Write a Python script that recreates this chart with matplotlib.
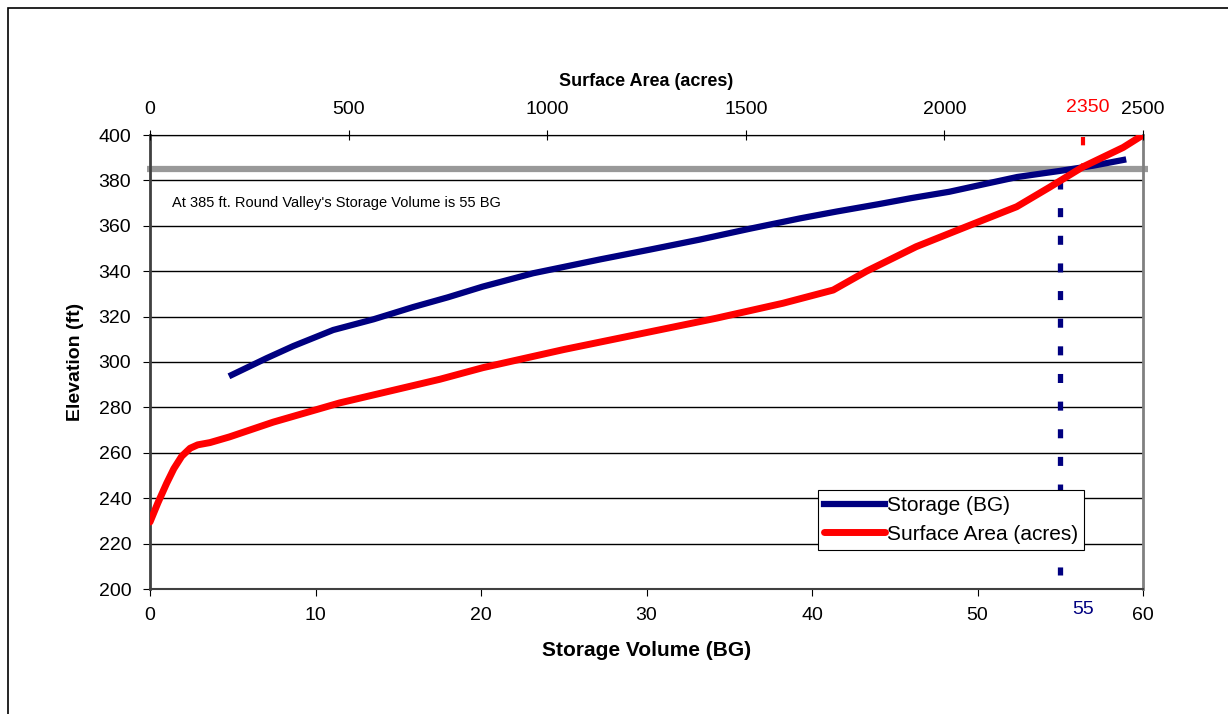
import matplotlib
matplotlib.use("Agg")
import matplotlib.pyplot as plt
from matplotlib.patches import Rectangle

plt.rcParams['font.family'] = ['Liberation Sans', 'DejaVu Sans']
plt.rcParams['lines.scale_dashes'] = False

# Storage curve (BG vs elevation ft)
storage_bg = [4.94, 7.05, 8.65, 11.07, 13.5, 15.9, 18.0, 20.1, 23.15, 27.2, 30.2,
              33.2, 36.3, 39.3, 41.5, 44.0, 46.0, 48.3, 50.5, 52.4, 55.0, 57.0, 58.8]
storage_elev = [294.3, 301.7, 307, 314.1, 318.8, 324.2, 328.5, 333.2, 339.1, 345.2,
                349.5, 353.9, 358.8, 363.3, 366.3, 369.5, 372.2, 375, 378.5, 381.5,
                384.2, 386.5, 389]

# Surface area curve (acres vs elevation ft)
area_acres = [0, 20, 42, 60, 80, 101, 120, 151, 200, 310, 478, 730, 838, 1042,
              1259, 1426, 1594, 1720, 1804, 1929, 2055, 2182, 2265, 2349, 2450, 2500]
area_elev = [229.5, 238, 246.6, 253, 258.5, 262, 263.5, 264.5, 267, 273.5, 282,
             292.4, 297.5, 305.5, 313.3, 319.3, 325.9, 331.7, 340, 350.8, 359.6,
             368.4, 377, 386, 394.5, 400]

ref_elev = 385
ref_storage = 55
ref_area = 2350

bottom_ticks = [0, 10, 20, 30, 40, 50, 60]
top_ticks = [0, 500, 1000, 1500, 2000, 2500]
y_ticks = [200, 220, 240, 260, 280, 300, 320, 340, 360, 380, 400]

fig = plt.figure(figsize=(12.28, 7.14), dpi=100)
fig.patches.append(Rectangle((8/1228, -0.1), 1.2, 1 - 8/714 + 0.1,
                             transform=fig.transFigure, fill=False,
                             edgecolor='black', linewidth=1.2))

ax = fig.add_axes([150/1228, 1 - 589/714, (1143-150)/1228, (589-135)/714])
ax.set_xlim(0, 60)
ax.set_ylim(200, 400)
ax.set_yticks(y_ticks)
ax.set_xticks(bottom_ticks)
ax.yaxis.grid(True, color='black', linewidth=1.0)
ax.set_axisbelow(True)
ax.spines['left'].set_color('#404040')
ax.spines['left'].set_linewidth(2)
ax.spines['right'].set_color('#808080')
ax.spines['right'].set_linewidth(2)
ax.spines['bottom'].set_color('#404040')
ax.spines['bottom'].set_linewidth(1.5)
ax.spines['top'].set_color('black')
ax.tick_params(axis='y', labelsize=14, length=5, pad=8.5, color='black')
ax.tick_params(axis='x', labelsize=14, length=5, pad=8, color='black')
ax.set_xlabel('Storage Volume (BG)', fontsize=15, fontweight='bold')
ax.xaxis.label.set_verticalalignment('center')
ax.xaxis.set_label_coords(0.5, (589 - 651) / 454)
ax.set_ylabel('Elevation (ft)', fontsize=14, fontweight='bold')
ax.yaxis.label.set_verticalalignment('center')
ax.yaxis.set_label_coords((75 - 150) / 993, 0.5)

ax.plot([-0.2, 60.3], [ref_elev, ref_elev], color='#999999', linewidth=4.5,
        clip_on=False, zorder=2, solid_capstyle='butt')
ax.plot([ref_storage, ref_storage], [380.2, 206.0], color='#000080',
        linewidth=3.8, dashes=(6.5, 13.4), zorder=3)
l1, = ax.plot(storage_bg, storage_elev, color='#000080', linewidth=4.5,
              zorder=4, label='Storage (BG)')
ax.text(1.3, 370, "At 385 ft. Round Valley's Storage Volume is 55 BG",
        fontsize=10.5, va='center', ha='left')
ax.text(56.4, (589 - 610) / 454, '55', color='#000080', fontsize=14,
        transform=ax.get_xaxis_transform(), ha='center', va='center')

ax2 = ax.twiny()
ax2.set_xlim(0, 2500)
ax2.set_xticks(top_ticks)
ax2.tick_params(axis='x', labelsize=14, length=7, direction='inout', pad=8.5)
ax2.set_xlabel('Surface Area (acres)', fontsize=13, fontweight='bold')
ax2.xaxis.label.set_verticalalignment('center')
ax2.xaxis.set_label_coords(0.5, (589 - 81) / 454)
ax2.patch.set_visible(False)
for s in ['left', 'right', 'bottom']:
    ax2.spines[s].set_visible(False)
ax2.plot([ref_area, ref_area], [399.2, ref_elev], color='red', linewidth=3,
         dashes=(6, 13), zorder=3)
l2, = ax2.plot(area_acres, area_elev, color='red', linewidth=5, zorder=4,
               label='Surface Area (acres)', solid_capstyle='round')
ax2.text(2361, (589 - 107) / 454, '2350', color='red', fontsize=14,
         transform=ax2.get_xaxis_transform(), ha='center', va='center')

leg = ax2.legend([l1, l2], ['Storage (BG)', 'Surface Area (acres)'],
                 loc='upper left', bbox_to_anchor=(0.6727, 0.218),
                 prop={'family': 'Liberation Sans', 'size': 15},
                 frameon=True, fancybox=False, framealpha=1,
                 edgecolor='black', handlelength=2.9, handletextpad=0.1,
                 borderpad=0.3, borderaxespad=0, labelspacing=0.45)
leg.get_frame().set_linewidth(0.8)
leg.set_zorder(10)

fig.savefig('out.png', dpi=100)
